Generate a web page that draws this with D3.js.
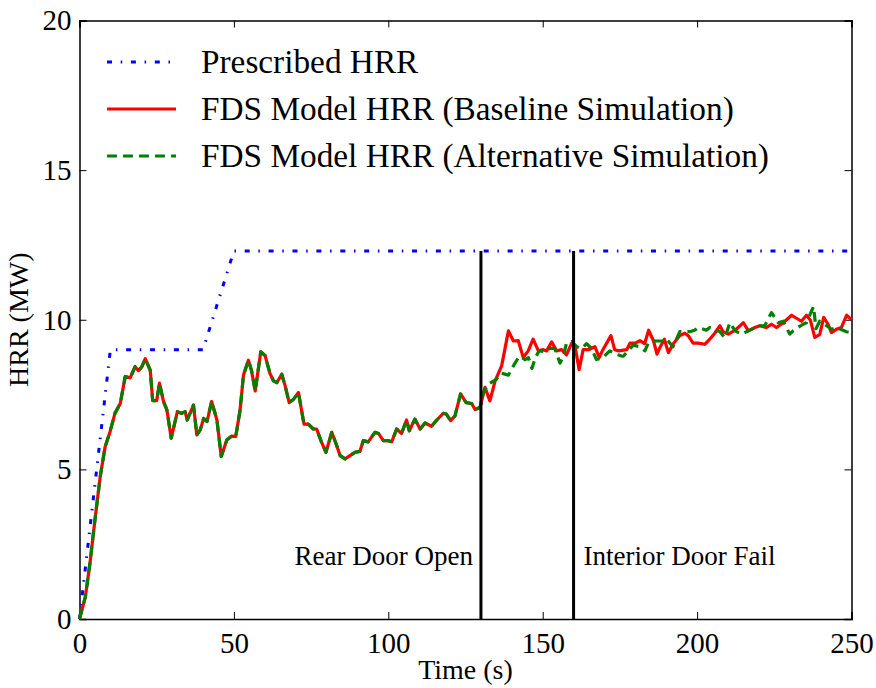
<!DOCTYPE html>
<html>
<head>
<meta charset="utf-8">
<script src="https://cdn.jsdelivr.net/npm/d3@7"></script>
<style>
  body { margin: 0; background: #fff; }
  svg text { font-family: "Liberation Serif", "Times New Roman", serif; fill: #000; }
</style>
</head>
<body>
<div id="chart"></div>
<script>
// Prescribed fire curve
const prescribedTime = [0, 10, 40, 50, 250];
const prescribedHRR = [0, 9, 9, 12.3, 12.3];

// FDS baseline run, [time (s), HRR (MW)]
const baselineHRR = [
    [0, 0], [1.9, 0.74], [3.4, 1.87], [5.1, 3.4], [6.7, 4.75], [8.3, 5.76], [9.9, 6.26],
    [11.5, 6.88], [13.2, 7.2], [14.8, 8.1], [16.4, 8.06], [18.0, 8.43], [19.1, 8.3],
    [20.2, 8.43], [21.3, 8.7], [22.9, 8.32], [23.7, 7.3], [25.0, 7.3], [25.9, 7.88],
    [27.2, 7.27], [28.3, 6.99], [29.7, 6.04], [31.7, 6.93], [33.1, 6.87], [34.2, 6.93],
    [34.9, 6.65], [36.9, 7.15], [38.0, 6.15], [39.1, 6.32], [40.2, 6.7], [41.3, 6.6],
    [42.8, 7.27], [44.5, 6.65], [45.9, 5.43], [47.7, 5.98], [49.2, 6.11], [50.6, 6.1],
    [52.0, 6.98], [53.1, 8.15], [54.7, 8.65], [55.7, 8.3], [56.9, 7.62], [58.7, 8.93],
    [60.1, 8.8], [61.7, 8.2], [62.8, 7.96], [63.9, 7.9], [65.5, 8.18], [66.6, 7.79],
    [67.9, 7.23], [69.3, 7.34], [70.9, 7.57], [72.7, 6.51], [74.1, 6.51], [75.7, 6.35],
    [76.8, 6.35], [78.4, 5.9], [79.8, 5.57], [81.7, 6.24], [83.1, 5.85], [84.4, 5.46],
    [86.0, 5.35], [87.6, 5.46], [89.2, 5.57], [90.8, 5.6], [91.9, 5.96], [93.5, 5.92],
    [95.7, 6.24], [96.8, 6.2], [98.4, 5.96], [100.0, 5.96], [101.1, 5.92], [102.7, 6.35],
    [104.3, 6.2], [105.9, 6.65], [106.8, 6.29], [108.6, 6.68], [110.3, 6.35], [111.9, 6.55],
    [114.0, 6.44], [115.7, 6.65], [117.8, 6.87], [118.8, 6.85], [120.2, 6.63], [121.6, 6.79],
    [123.4, 7.52], [125.2, 7.23], [127.0, 7.2], [128.1, 7.0], [129.7, 7.07], [131.3, 7.74],
    [132.9, 7.29], [134.6, 7.96], [136.7, 8.46], [138.9, 9.63], [140.5, 9.29], [142.1, 9.3],
    [143.7, 8.74], [145.3, 8.96], [146.9, 9.35], [148.6, 8.96], [150.2, 9.0], [151.3, 8.96],
    [152.9, 9.26], [154.5, 8.96], [156.1, 9.0], [157.7, 8.83], [159.4, 9.22], [160.5, 9.1],
    [161.8, 8.33], [163.1, 9.0], [164.8, 9.0], [166.9, 9.1], [168.3, 8.74], [169.5, 9.0],
    [172.1, 9.47], [173.3, 9.0], [174.7, 8.96], [177.2, 9.0], [178.3, 9.22], [179.9, 9.22],
    [181.5, 9.3], [183.0, 9.2], [184.3, 9.65], [185.9, 9.29], [187.0, 8.85], [188.1, 9.1],
    [189.4, 9.35], [190.7, 8.9], [192.3, 9.2], [194.4, 9.47], [196.0, 9.55], [197.1, 9.47],
    [198.7, 9.22], [200.3, 9.22], [202.5, 9.18], [204.1, 9.35], [205.7, 9.55], [207.4, 9.8],
    [208.4, 9.6], [210.1, 9.52], [212.3, 9.65], [215.0, 9.9], [216.6, 9.63], [218.7, 9.74],
    [220.3, 9.8], [222.4, 9.74], [224.1, 9.85], [225.7, 9.74], [227.9, 9.9], [230.6, 10.15],
    [232.2, 10.05], [233.8, 9.95], [235.4, 10.15], [236.7, 9.98], [238.1, 9.41], [239.7, 9.5],
    [241.0, 10.08], [242.4, 9.85], [243.5, 9.57], [245.1, 9.68], [246.7, 9.74], [248.4, 10.15],
    [250.0, 10.0]
];

// FDS alternative run: same as baseline up to the rear door opening, then these points
const alternativeSplit = 130;
const alternativeLateHRR = [
    [130.8, 7.57], [132.4, 7.85], [134.9, 8.0], [136.5, 8.22], [138.9, 8.15], [140.0, 8.37],
    [142.1, 8.73], [142.6, 8.78], [144.3, 8.67], [145.4, 8.73], [146.5, 8.37], [147.6, 8.73],
    [148.9, 8.97], [150.2, 8.93], [152.3, 9.04], [153.9, 9.04], [155.6, 8.55], [156.7, 8.78],
    [157.7, 9.22], [159.4, 9.27], [161.0, 9.1], [162.6, 9.04], [164.2, 9.2], [165.8, 9.04],
    [167.4, 8.67], [169.5, 8.73], [171.7, 8.96], [174.4, 8.83], [175.5, 8.79], [176.1, 8.78],
    [179.3, 9.15], [181.5, 9.1], [183.1, 8.96], [184.3, 9.25], [186.3, 9.29], [189.0, 9.29],
    [190.1, 9.35], [192.2, 9.1], [194.4, 9.6], [197.6, 9.6], [199.2, 9.65], [200.3, 9.74],
    [203.0, 9.65], [204.1, 9.74], [207.4, 9.6], [209.0, 9.39], [210.6, 9.9], [212.3, 9.63],
    [214.4, 9.52], [217.6, 9.68], [219.8, 9.8], [221.9, 9.8], [224.1, 10.24], [226.2, 9.9],
    [227.9, 9.95], [230.0, 9.52], [231.1, 9.63], [234.3, 9.85], [235.4, 9.9], [237.7, 10.44],
    [238.5, 9.7], [239.7, 9.95], [241.3, 9.85], [243.5, 9.68], [245.1, 9.74], [248.4, 9.6],
    [250.0, 9.57]
];

// Event markers
const eventTimes = [130, 160];
const eventLabels = ["Rear Door Open", "Interior Door Fail"];
const eventTop = 12.3;

const xTicks = [0, 50, 100, 150, 200, 250];
const yTicks = [0, 5, 10, 15, 20];

const legendLabels = ["Prescribed HRR", "FDS Model HRR (Baseline Simulation)", "FDS Model HRR (Alternative Simulation)"];

// Dimensions
let width = 876,
    height = 688;

let margin = {
    top: 20.5,
    bottom: 69,
    left: 79.5,
    right: 24.5
}

let svg = d3.select('#chart')
    .append('svg')
    .attr('width', width)
    .attr('height', height);

let xScale = d3.scaleLinear()
    .domain([0, 250])
    .range([margin.left, width - margin.right]);

let yScale = d3.scaleLinear()
    .domain([0, 20])
    .range([height - margin.bottom, margin.top]);

const fontSize = 29;

// Axes with inward ticks on all four sides
svg.append("g")
    .attr("transform", `translate(0,${height - margin.bottom})`)
    .call(d3.axisBottom(xScale).tickValues(xTicks).tickSize(-7).tickPadding(13).tickFormat(d3.format("d")))
    .call(g => g.selectAll("text").style("font-size", fontSize + "px"));

svg.append("g")
    .attr("transform", `translate(0,${margin.top})`)
    .call(d3.axisTop(xScale).tickValues(xTicks).tickSize(-7).tickFormat(""));

svg.append("g")
    .attr("transform", `translate(${margin.left},0)`)
    .call(d3.axisLeft(yScale).tickValues(yTicks).tickSize(-7).tickPadding(8).tickFormat(d3.format("d")))
    .call(g => g.selectAll("text").style("font-size", fontSize + "px"));

svg.append("g")
    .attr("transform", `translate(${width - margin.right},0)`)
    .call(d3.axisRight(yScale).tickValues(yTicks).tickSize(-7).tickFormat(""));

svg.selectAll(".domain").attr("stroke", "black").attr("stroke-width", 1.5);
svg.selectAll(".tick line").attr("stroke", "black").attr("stroke-width", 1);

// Axis titles
svg.append("text")
    .attr("x", (xScale(0) + xScale(250)) / 2)
    .attr("y", 679)
    .attr("text-anchor", "middle")
    .style("font-size", "28px")
    .text("Time (s)");

svg.append("text")
    .attr("transform", `translate(28,${(yScale(0) + yScale(20)) / 2}) rotate(-90)`)
    .attr("text-anchor", "middle")
    .style("font-size", "28px")
    .text("HRR (MW)");

const line = d3.line()
    .x(d => xScale(d[0]))
    .y(d => yScale(d[1]));

const plot = svg.append("g");

// Prescribed curve
plot.append("path")
    .datum(prescribedTime.map((t, i) => [t, prescribedHRR[i]]))
    .attr("d", line)
    .attr("fill", "none")
    .attr("stroke", "blue")
    .attr("stroke-width", 3)
    .attr("stroke-dasharray", "5,8.7,1.5,8.7");

// Baseline run
plot.append("path")
    .datum(baselineHRR)
    .attr("d", line)
    .attr("fill", "none")
    .attr("stroke", "red")
    .attr("stroke-width", 3.2)
    .attr("stroke-linejoin", "round");

// Alternative run
const alternativeHRR = baselineHRR.filter(d => d[0] < alternativeSplit).concat(alternativeLateHRR);
plot.append("path")
    .datum(alternativeHRR)
    .attr("d", line)
    .attr("fill", "none")
    .attr("stroke", "green")
    .attr("stroke-width", 3.2)
    .attr("stroke-linejoin", "round")
    .attr("stroke-dasharray", "10,6");

// Event lines and labels
eventTimes.forEach((t, i) => {
    plot.append("line")
        .attr("x1", xScale(t))
        .attr("x2", xScale(t))
        .attr("y1", yScale(0))
        .attr("y2", yScale(eventTop))
        .attr("stroke", "black")
        .attr("stroke-width", 3);

    plot.append("text")
        .attr("x", i === 0 ? xScale(t) - 8 : xScale(t) + 10)
        .attr("y", yScale(1.8))
        .attr("text-anchor", i === 0 ? "end" : "start")
        .style("font-size", "27px")
        .text(eventLabels[i]);
});

// Legend
const legendStyles = [
    { color: "blue", dash: "5,8.7,1.5,8.7" },
    { color: "red", dash: null },
    { color: "green", dash: "10,6" }
];

const legend = svg.selectAll(".legend")
    .data(legendLabels)
    .enter().append("g")
    .attr("class", "legend")
    .attr("transform", (d, i) => `translate(107, ${62 + i * 47})`);

legend.append("line")
    .attr("x1", 0)
    .attr("x2", 69)
    .attr("stroke", (d, i) => legendStyles[i].color)
    .attr("stroke-width", 3)
    .attr("stroke-dasharray", (d, i) => legendStyles[i].dash);

legend.append("text")
    .attr("x", 94)
    .attr("y", 11)
    .style("font-size", "33.3px")
    .text(d => d);
</script>
</body>
</html>
